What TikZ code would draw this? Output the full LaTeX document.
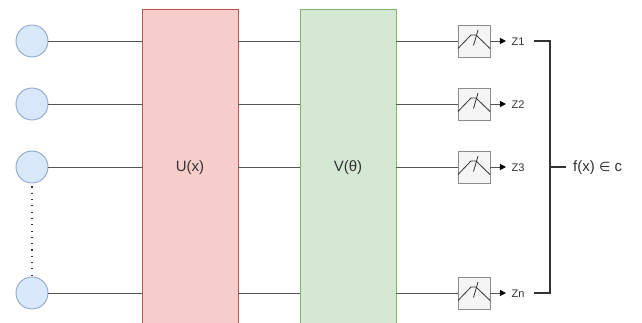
\documentclass[tikz,border=0pt]{standalone}
\usepackage{fontspec}
\setmainfont{Liberation Sans}
\newfontfamily\symfont{DejaVu Sans}
\definecolor{redfill}{HTML}{F8CECC}
\definecolor{redline}{HTML}{B85450}
\definecolor{greenfill}{HTML}{D5E8D4}
\definecolor{greenline}{HTML}{82B366}
\definecolor{bluefill}{HTML}{DAE8FC}
\definecolor{blueline}{HTML}{8FA9CF}
\definecolor{boxfill}{HTML}{F5F5F5}
\definecolor{boxline}{HTML}{8C8C8C}
\definecolor{wire}{HTML}{555555}
\definecolor{ink}{HTML}{333333}
\usetikzlibrary{arrows.meta}
\tikzset{
  inputnode/.style={circle,draw=blueline,fill=bluefill,line width=0.9pt,minimum size=32pt,inner sep=0pt},
  block/.style={rectangle,minimum width=96pt,minimum height=318pt,line width=0.8pt,inner sep=0pt,text=ink,font=\fontsize{15}{17}\selectfont},
  activation/.style={rectangle,draw=boxline,fill=boxfill,line width=0.9pt,minimum size=32pt,inner sep=0pt},
  wireline/.style={draw=wire,line width=0.9pt},
  arrowline/.style={draw=wire,line width=0.8pt,-{Triangle[length=6pt,width=6pt,color=black]}},
  outlabel/.style={text=ink,font=\fontsize{11}{13}\selectfont,inner sep=0pt},
  bracket/.style={draw=ink,line width=1.6pt},
  iconline/.style={draw=black!80,line width=0.8pt},
  dotline/.style={draw=ink,line width=1.1pt,dash pattern=on 1.1pt off 5.2pt}
}
\begin{document}
\begin{tikzpicture}[x=1pt,y=-1pt]
\useasboundingbox (0,0) rectangle (642,323);
\fill[white] (0,0) rectangle (642,323);
\node[inputnode] (c1) at (32,41) {};
\node[inputnode] (c2) at (32,104) {};
\node[inputnode] (c3) at (32,167) {};
\node[inputnode] (c4) at (32,293) {};
\node[block,draw=redline,fill=redfill] (U) at (190,168) {U(x)};
\node[block,draw=greenline,fill=greenfill] (V) at (348,168) {V(θ)};
\foreach \i/\y/\t in {1/41/Z1,2/104/Z2,3/167/Z3,4/293/Zn}{
  \node[activation] (a\i) at (474,\y) {};
  \node[outlabel,anchor=west] (z\i) at (511.5,\y+0.5) {\t};
  \draw[wireline] (c\i.east) -- (c\i.east -| U.west);
  \draw[wireline] (c\i.east -| U.east) -- (c\i.east -| V.west);
  \draw[wireline] (c\i.east -| V.east) -- (a\i.west);
  \draw[arrowline] (a\i.east) -- ++(15.5,0);
  \draw[iconline] (474-16,\y+7.5) -- (474-3,\y-6) -- (474+2,\y-6) -- (474+16,\y+7.5);
  \draw[iconline] (474+4,\y-11) -- (474-0.5,\y+4.5);
}
\draw[dotline] (c3.south) ++(0,3) -- (c4.north);
\coordinate (bt) at (534,41);
\coordinate (bb) at (534,293);
\coordinate (bm) at (550,167);
\draw[bracket] (bt) -- (550,41) -- (550,293) -- (bb);
\node[text=ink,font=\fontsize{15}{17}\selectfont,anchor=west,inner sep=0pt] (f) at (573,168) {f(x) {\symfont\fontsize{13}{15}\selectfont ∈} c};
\draw[bracket] (bm) -- (566,167);
\end{tikzpicture}
\end{document}
